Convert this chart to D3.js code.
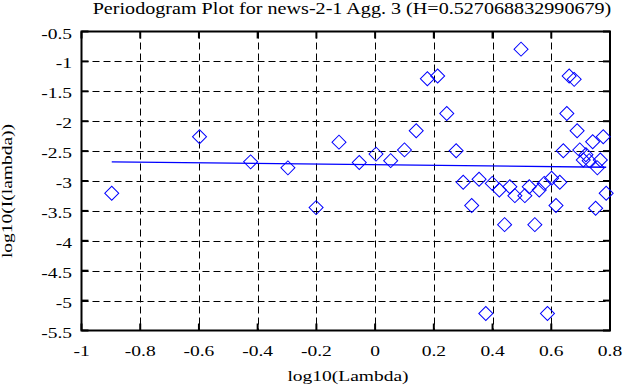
<!DOCTYPE html>
<html>
<head>
<meta charset="utf-8">
<script src="https://cdn.jsdelivr.net/npm/d3@7"></script>
<style>
    body { margin: 0; background: #fff; }
</style>
</head>
<body>
<svg width="642" height="387"></svg>
<script>
const chartTitle = "Periodogram Plot for news-2-1 Agg. 3 (H=0.527068832990679)";
const xLabel = "log10(Lambda)";
const yLabel = "log10(I(lambda))";

// periodogram points
const logLambda = [-0.897, -0.598, -0.424, -0.297, -0.201, -0.123, -0.054, 0.003, 0.053, 0.100,
    0.140, 0.178, 0.213, 0.244, 0.276, 0.300, 0.329, 0.354, 0.377, 0.399,
    0.423, 0.441, 0.459, 0.476, 0.497, 0.510, 0.525, 0.544, 0.559, 0.576,
    0.587, 0.601, 0.616, 0.629, 0.641, 0.653, 0.661, 0.678, 0.688, 0.697,
    0.709, 0.718, 0.729, 0.741, 0.751, 0.757, 0.767, 0.777, 0.787];
const logI = [-3.205, -2.26, -2.68, -2.78, -3.445, -2.35, -2.69, -2.55, -2.66, -2.48,
    -2.16, -1.29, -1.245, -1.87, -2.495, -3.02, -3.41, -2.97, -5.217, -3.04,
    -3.15, -3.73, -3.095, -3.245, -0.795, -3.245, -3.095, -3.73, -3.15, -3.04,
    -5.217, -2.955, -3.41, -3.02, -2.495, -1.87, -1.245, -1.30, -2.16, -2.48,
    -2.65, -2.56, -2.66, -2.345, -3.455, -2.78, -2.65, -2.26, -3.205];

// fitted line ends
const fitX = [-0.897, 0.787];
const fitY = [-2.68, -2.77];

const xTicks = [-1, -0.8, -0.6, -0.4, -0.2, 0, 0.2, 0.4, 0.6, 0.8];
const xTickLabels = ["-1", "-0.8", "-0.6", "-0.4", "-0.2", "0", "0.2", "0.4", "0.6", "0.8"];
const yTicks = [-5.5, -5, -4.5, -4, -3.5, -3, -2.5, -2, -1.5, -1, -0.5];
const yTickLabels = ["-5.5", "-5", "-4.5", "-4", "-3.5", "-3", "-2.5", "-2", "-1.5", "-1", "-0.5"];

let svg = d3.select("svg"),
    plotLeft = 81.5, plotRight = 610, plotTop = 31.5, plotBottom = 330.5,
    stretch = 1.3;

let x = d3.scaleLinear().domain([-1, 0.8]).range([plotLeft, plotRight]);
let y = d3.scaleLinear().domain([-5.5, -0.5]).range([plotBottom, plotTop]);

// wide bitmap-ish serif text: scale glyphs horizontally
function addText(str, tx, ty, anchor, size, sx, rot) {
    svg.append("text")
        .attr("transform", "translate(" + tx + "," + ty + ")" + (rot ? " rotate(" + rot + ")" : "") + " scale(" + sx + ",1)")
        .attr("text-anchor", anchor)
        .attr("font-family", "'Liberation Serif', 'Times New Roman', serif")
        .attr("font-size", size)
        .attr("fill", "#000")
        .text(str);
}

// grid
let grid = svg.append("g")
    .attr("stroke", "#000")
    .attr("stroke-width", 1)
    .attr("stroke-dasharray", "7,4");
grid.selectAll(".gx")
    .data(xTicks.slice(1, -1))
    .enter().append("line")
    .attr("x1", d => Math.round(x(d)) + 0.5).attr("x2", d => Math.round(x(d)) + 0.5)
    .attr("y1", plotTop).attr("y2", plotBottom);
grid.selectAll(".gy")
    .data(yTicks.slice(1, -1))
    .enter().append("line")
    .attr("y1", d => Math.round(y(d)) + 0.5).attr("y2", d => Math.round(y(d)) + 0.5)
    .attr("x1", plotLeft).attr("x2", plotRight);

// ticks on all four sides, pointing inward
let ticks = svg.append("g").attr("stroke", "#000").attr("stroke-width", 2);
xTicks.forEach(d => {
    ticks.append("line").attr("x1", x(d)).attr("x2", x(d)).attr("y1", plotBottom).attr("y2", plotBottom - 7);
    ticks.append("line").attr("x1", x(d)).attr("x2", x(d)).attr("y1", plotTop).attr("y2", plotTop + 7);
});
yTicks.forEach(d => {
    ticks.append("line").attr("y1", y(d)).attr("y2", y(d)).attr("x1", plotLeft).attr("x2", plotLeft + 7);
    ticks.append("line").attr("y1", y(d)).attr("y2", y(d)).attr("x1", plotRight).attr("x2", plotRight - 7);
});

// frame
svg.append("rect")
    .attr("x", plotLeft).attr("y", plotTop)
    .attr("width", plotRight - plotLeft).attr("height", plotBottom - plotTop)
    .attr("fill", "none")
    .attr("stroke", "#000")
    .attr("stroke-width", 2);

// fitted line
let fit = fitX.map((d, i) => [d, fitY[i]]);
svg.append("path")
    .datum(fit)
    .attr("fill", "none")
    .attr("stroke", "#0000ff")
    .attr("stroke-width", 1.3)
    .attr("d", d3.line().x(d => x(d[0])).y(d => y(d[1])));

// diamonds
let points = logLambda.map((d, i) => ({ lx: d, ly: logI[i] }));
let diamond = d3.symbol().type(d3.symbolSquare).size(98);
svg.append("g").selectAll("path")
    .data(points)
    .enter().append("path")
    .attr("d", diamond)
    .attr("transform", d => "translate(" + x(d.lx) + "," + y(d.ly) + ") rotate(45)")
    .attr("fill", "none")
    .attr("stroke", "#0000ff")
    .attr("stroke-width", 1);

// tick labels
xTicks.forEach((d, i) => addText(xTickLabels[i], x(d), 356, "middle", 15, stretch));
yTicks.forEach((d, i) => addText(yTickLabels[i], 72, y(d) + 7, "end", 15, stretch));

// titles
addText(chartTitle, 352, 14, "middle", 16.5, 1.22);
addText(xLabel, 348, 381, "middle", 15, stretch);
addText(yLabel, 12, 191, "middle", 15, stretch, -90);
</script>
</body>
</html>
